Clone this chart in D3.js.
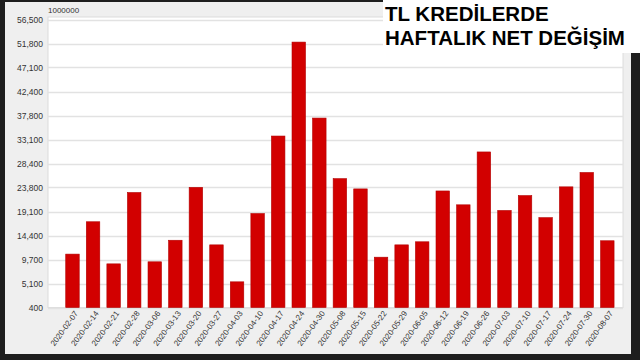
<!DOCTYPE html>
<html>
<head>
<meta charset="utf-8">
<script src="https://cdn.jsdelivr.net/npm/d3@7"></script>
<style>
  html, body { margin: 0; padding: 0; background: #1e1e1e; }
  svg { display: block; }
</style>
</head>
<body>
<svg id="chart" width="640" height="360"></svg>
<script>
// weekly dates
const weeks = ["2020-02-07","2020-02-14","2020-02-21","2020-02-28","2020-03-06","2020-03-13",
  "2020-03-20","2020-03-27","2020-04-03","2020-04-10","2020-04-17","2020-04-24","2020-04-30",
  "2020-05-08","2020-05-15","2020-05-22","2020-05-29","2020-06-05","2020-06-12","2020-06-19",
  "2020-06-26","2020-07-03","2020-07-10","2020-07-17","2020-07-24","2020-07-30","2020-08-07"];
// net change, in 1,000,000 TL
const netChange = [10800, 17100, 8900, 22800, 9300, 13500, 23800, 12600, 5400, 18700, 33800,
  52100, 37300, 25500, 23500, 10200, 12600, 13200, 23100, 20400, 30700, 19300, 22200, 17900,
  23900, 26700, 13400];
const yTickLabels = ["400","5,100","9,700","14,400","19,100","23,800","28,400","33,100",
  "37,800","42,400","47,100","51,800","56,500"];
const titleLines = ["TL KREDİLERDE", "HAFTALIK NET DEĞİŞİM"];

const svg = d3.select("#chart");
const plot = { left: 48, right: 623, top: 17, bottom: 307.5 };

// grey panel
svg.append("rect").attr("x", 5).attr("y", 2).attr("width", 626).attr("height", 352)
  .attr("fill", "#efefef");
// white plot area
svg.append("rect").attr("x", plot.left).attr("y", plot.top)
  .attr("width", plot.right - plot.left).attr("height", plot.bottom - plot.top)
  .attr("fill", "#fff").attr("stroke", "#dcdcdc").attr("stroke-width", 1);

const yMin = 400, yMax = 56500;
const y = d3.scaleLinear().domain([yMin, yMax]).range([plot.bottom, 19.5]);
const tickVals = yTickLabels.map((d, i) => yMin + i * (yMax - yMin) / (yTickLabels.length - 1));

const x = d3.scaleBand()
  .domain(weeks)
  .range([plot.left, plot.right])
  .paddingInner(0.344)
  .paddingOuter(0.648)
  .align(0.665);

// grid lines
svg.append("g").selectAll("line")
  .data(tickVals)
  .enter().append("line")
  .attr("x1", plot.left).attr("x2", plot.right)
  .attr("y1", d => Math.round(y(d)) + 0.5).attr("y2", d => Math.round(y(d)) + 0.5)
  .attr("stroke", "#e2e2e2").attr("stroke-width", 1.5);

// y axis labels
const yAxis = d3.axisLeft(y).tickValues(tickVals).tickSize(0).tickPadding(5)
  .tickFormat((d, i) => yTickLabels[i]);
svg.append("g")
  .attr("transform", "translate(" + plot.left + ",0)")
  .call(yAxis)
  .call(g => g.select(".domain").remove())
  .selectAll("text")
  .attr("font-family", "Liberation Sans, Arial, sans-serif")
  .attr("font-size", "8.5px")
  .attr("fill", "#333");

// unit label
svg.append("text").attr("x", plot.left).attr("y", 13)
  .attr("font-family", "Liberation Sans, Arial, sans-serif").attr("font-size", "8px")
  .attr("fill", "#333").text("1000000");

// bars
svg.append("g").selectAll("rect")
  .data(weeks)
  .enter().append("rect")
  .attr("x", d => x(d))
  .attr("y", (d, i) => y(netChange[i]))
  .attr("width", x.bandwidth())
  .attr("height", (d, i) => y(yMin) - y(netChange[i]))
  .attr("fill", "#d20000")
  .attr("stroke", "#b30000")
  .attr("stroke-width", 0.6);

// x axis labels
const xAxis = d3.axisBottom(x).tickSize(0).tickPadding(0);
svg.append("g")
  .attr("transform", "translate(0," + plot.bottom + ")")
  .call(xAxis)
  .call(g => g.select(".domain").remove())
  .selectAll("text")
  .attr("font-family", "Liberation Sans, Arial, sans-serif")
  .attr("font-size", "8px")
  .attr("fill", "#333")
  .attr("text-anchor", "end")
  .attr("dy", 0)
  .attr("transform", "translate(6,6) rotate(-54)");

// title box
svg.append("rect").attr("x", 383).attr("y", 0).attr("width", 257).attr("height", 53)
  .attr("fill", "#fff");
svg.append("g").selectAll("text")
  .data(titleLines)
  .enter().append("text")
  .attr("x", 385)
  .attr("y", (d, i) => 21 + i * 23.5)
  .attr("font-family", "Liberation Sans, Arial, sans-serif")
  .attr("font-weight", "bold")
  .attr("font-size", "20.5px")
  .attr("fill", "#000")
  .text(d => d);
</script>
</body>
</html>
